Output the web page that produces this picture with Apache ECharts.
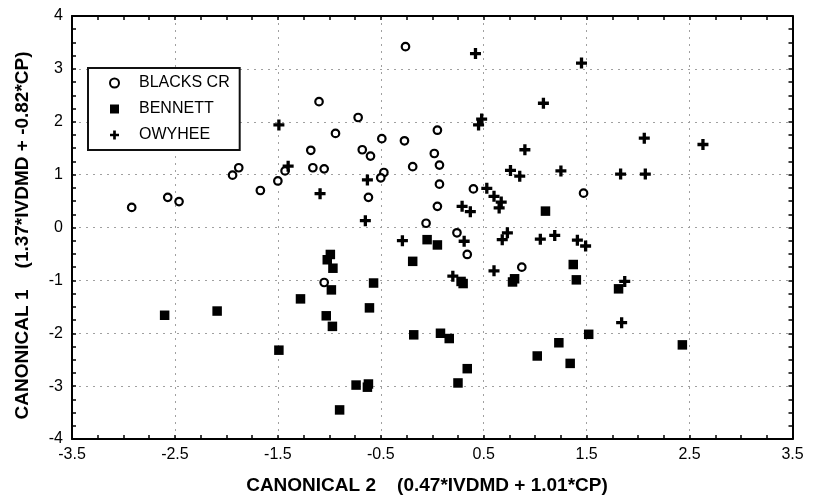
<!DOCTYPE html>
<html><head><meta charset="utf-8">
<script src="https://cdn.jsdelivr.net/npm/echarts@6/dist/echarts.min.js"></script>
<style>html,body{margin:0;padding:0;background:#fff}#c{width:815px;height:500px}</style>
</head><body><div id="c"></div>
<script>
const seriesNames = ['BLACKS CR', 'BENNETT', 'OWYHEE'];
const xTitle = 'CANONICAL 2    (0.47*IVDMD + 1.01*CP)  ';
const yTitle = 'CANONICAL 1    (1.37*IVDMD + -0.82*CP)   ';
const xRange = [-3.5, 3.5];
const yRange = [-4, 4];

const blacksCr = [
  [-2.92, 0.38], [-2.57, 0.57], [-2.46, 0.49], [-1.94, 0.99], [-1.88, 1.13],
  [-1.67, 0.70], [-1.50, 0.88], [-1.43, 1.07], [-0.26, 3.42], [-1.10, 2.38],
  [-0.72, 2.08], [-0.94, 1.78], [0.05, 1.84], [-1.18, 1.46], [-0.49, 1.68],
  [-0.27, 1.64], [-0.68, 1.47], [-0.60, 1.35], [0.02, 1.40], [0.07, 1.18],
  [-1.16, 1.13], [-1.05, 1.11], [-0.19, 1.15], [-0.47, 1.04], [-0.50, 0.94],
  [0.07, 0.82], [0.40, 0.73], [-0.62, 0.57], [0.05, 0.40], [-0.06, 0.08],
  [0.24, -0.10], [0.34, -0.51], [0.87, -0.75], [1.47, 0.65], [-1.05, -1.04]
];
const bennett = [
  [1.10, 0.31], [-0.05, -0.23], [0.05, -0.33], [-0.99, -0.51], [-1.02, -0.61],
  [-0.965, -0.77], [-0.19, -0.64], [1.37, -0.70], [1.40, -0.99], [1.81, -1.16],
  [-0.98, -1.18], [-0.57, -1.05], [0.28, -1.02], [0.30, -1.06], [0.78, -1.03],
  [0.80, -0.97], [-1.28, -1.35], [-0.61, -1.52], [-1.03, -1.67], [-0.97, -1.87],
  [-0.18, -2.03], [0.08, -2.00], [0.165, -2.10], [1.52, -2.02], [1.23, -2.18],
  [2.43, -2.22], [1.02, -2.43], [1.34, -2.57], [0.34, -2.67], [0.25, -2.94],
  [-1.49, -2.32], [-2.60, -1.66], [-2.09, -1.58], [-0.74, -2.98], [-0.63, -3.02],
  [-0.62, -2.96], [-0.90, -3.45]
];
const owyhee = [
  [0.42, 3.29], [1.45, 3.11], [1.08, 2.35], [0.48, 2.05], [0.45, 1.94],
  [-1.49, 1.94], [2.06, 1.69], [2.63, 1.57], [0.90, 1.47], [-1.40, 1.16],
  [0.76, 1.08], [1.25, 1.07], [0.85, 0.97], [1.83, 1.01], [2.07, 1.01],
  [-0.63, 0.90], [0.53, 0.74], [-1.09, 0.64], [0.60, 0.59], [0.67, 0.48],
  [0.65, 0.37], [0.29, 0.40], [0.37, 0.30], [-0.65, 0.13], [-0.29, -0.25],
  [0.31, -0.26], [0.73, -0.10], [0.68, -0.23], [1.05, -0.22], [1.19, -0.15],
  [1.41, -0.24], [1.49, -0.35], [0.20, -0.92], [0.60, -0.82], [1.87, -1.02],
  [1.84, -1.80]
];

const plusPath = 'path://M3.5,0H6.5V3.5H10V6.5H6.5V10H3.5V6.5H0V3.5H3.5Z';
const FONT = 'Liberation Sans, Arial, sans-serif';

function baseAxis(extra) {
  return Object.assign({
    axisLine: { show: true, onZero: false, lineStyle: { color: '#000', width: 2 } },
    axisTick: { show: true, inside: true, length: 4, lineStyle: { color: '#000', width: 1.5 } },
    minorTick: { show: true, splitNumber: 4, length: 4, lineStyle: { color: '#000', width: 1.5 } },
    axisLabel: { show: false },
    splitLine: { show: false }
  }, extra);
}

const chart = echarts.init(document.getElementById('c'), null, { renderer: 'canvas' });
chart.setOption({
  backgroundColor: '#fff',
  animation: false,
  grid: { left: 72, right: 22.5, top: 16, bottom: 60, containLabel: false },
  xAxis: [
    baseAxis({
      type: 'value', position: 'bottom', min: xRange[0], max: xRange[1], interval: 1,
      axisLabel: { show: true, color: '#000', fontFamily: FONT, fontSize: 16, margin: 8 },
      splitLine: { show: true, lineStyle: { color: '#a0a0a0', width: 1, type: [2, 5] } },
      name: xTitle, nameLocation: 'middle', nameGap: 37,
      nameTextStyle: { color: '#000', fontFamily: FONT, fontSize: 19, fontWeight: 'bold' }
    }),
    baseAxis({ type: 'value', position: 'top', min: xRange[0], max: xRange[1], interval: 1 })
  ],
  yAxis: [
    baseAxis({
      type: 'value', position: 'left', min: yRange[0], max: yRange[1], interval: 1,
      axisLabel: { show: true, color: '#000', fontFamily: FONT, fontSize: 16, margin: 9 },
      splitLine: { show: true, lineStyle: { color: '#a0a0a0', width: 1, type: [2, 5] } },
      name: yTitle, nameLocation: 'middle', nameGap: 40, nameRotate: 90,
      nameTextStyle: { color: '#000', fontFamily: FONT, fontSize: 19, fontWeight: 'bold' }
    }),
    baseAxis({ type: 'value', position: 'right', min: yRange[0], max: yRange[1], interval: 1 })
  ],
  legend: {
    orient: 'vertical', left: 88, top: 68,
    padding: [7, 10, 7, 21],
    itemWidth: 9, itemHeight: 9, itemGap: 10,
    borderColor: '#111', borderWidth: 2, backgroundColor: '#fff',
    textStyle: { color: '#000', fontFamily: FONT, fontSize: 16, lineHeight: 16, padding: [0, 0, 0, 15] },
    data: seriesNames
  },
  series: [
    {
      name: seriesNames[0], type: 'scatter', data: blacksCr,
      symbol: 'circle', symbolSize: 7.5,
      itemStyle: { color: '#fff', borderColor: '#000', borderWidth: 2.2, opacity: 1 }
    },
    {
      name: seriesNames[1], type: 'scatter', data: bennett,
      symbol: 'rect', symbolSize: 9.5,
      itemStyle: { color: '#000', opacity: 1 }
    },
    {
      name: seriesNames[2], type: 'scatter', data: owyhee,
      symbol: plusPath, symbolSize: 11,
      itemStyle: { color: '#000', opacity: 1 }
    }
  ]
});
</script>
</body></html>
